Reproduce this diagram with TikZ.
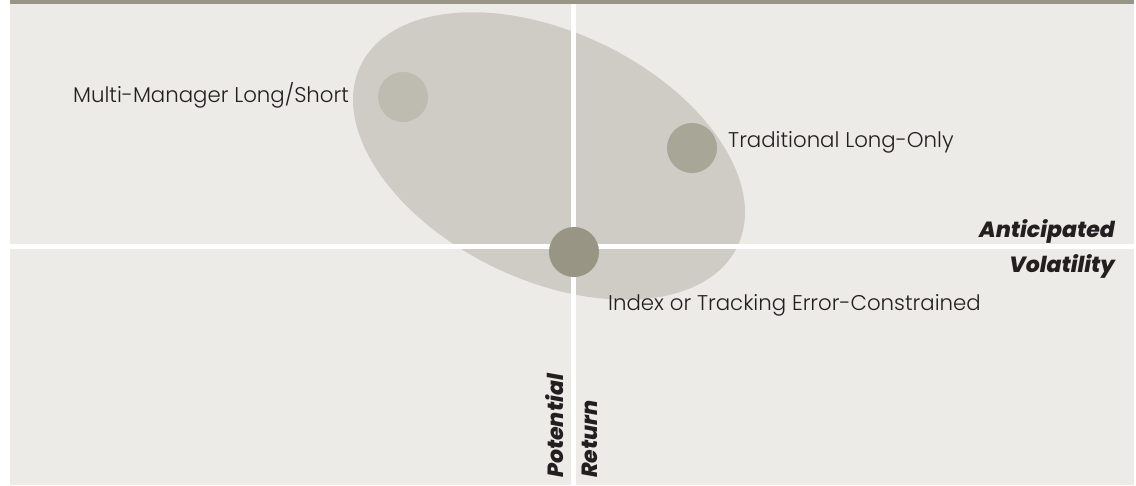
\documentclass[tikz,border=0pt]{standalone}
\usepackage{fontspec}
\usetikzlibrary{shapes.geometric}
\newfontfamily\labelfont{Poppins Light}
\newfontfamily\axisfont{Poppins ExtraBold Italic}
\definecolor{barcol}{HTML}{999585}
\definecolor{panelcol}{HTML}{ECEBE7}
\definecolor{cloudcol}{HTML}{CFCCC5}
\definecolor{dotA}{HTML}{BEBCB1}
\definecolor{dotB}{HTML}{A8A697}
\definecolor{dotC}{HTML}{999584}
\definecolor{inkcol}{HTML}{231F20}
\tikzset{
  dot/.style={circle, inner sep=0pt, minimum size=50pt, draw=none},
  strategy/.style={font=\labelfont\fontsize{21.3}{24}\selectfont, text=inkcol, inner sep=0pt, anchor=base west},
  axislabel/.style={font=\axisfont\fontsize{22}{24}\selectfont, text=inkcol, inner sep=0pt},
  axisline/.style={white, line width=5pt}
}
\begin{document}
\begin{tikzpicture}[x=1pt, y=-1pt]
  \useasboundingbox (0,0) rectangle (1136,485);
  % backdrop and header bar
  \fill[panelcol] (10,0) rectangle (1134,485);
  \fill[barcol] (10,0) rectangle (1134,4);
  % cloud of strategies
  \node[ellipse, fill=cloudcol, inner sep=0pt, minimum width=418pt, minimum height=248pt, rotate=-25.6] (cloud) at (549,156) {};
  \node[dot, fill=dotA] (mm) at (403,97) {};
  \node[dot, fill=dotB] (tl) at (692,148) {};
  % axes
  \coordinate (xl) at (10,246.5);
  \coordinate (xr) at (1134,246.5);
  \coordinate (yt) at (573.5,4);
  \coordinate (yb) at (573.5,485);
  \draw[axisline] (xl) -- (xr);
  \draw[axisline] (yt) -- (yb);
  \node[dot, fill=dotC] (ix) at (574,252) {};
  % strategy labels
  \node[strategy] (mmlab) at (73,102) {Multi-Manager Long/Short};
  \node[strategy] (tllab) at (728,147) {Traditional Long-Only};
  \node[strategy] (ixlab) at (608,310) {Index or Tracking Error-Constrained};
  % axis labels
  \node[axislabel, anchor=base east] (av1) at (1115,237) {Anticipated};
  \node[axislabel, anchor=base east] (av2) at (1115,272) {Volatility};
  \node[axislabel, anchor=base west, rotate=90] (pr1) at (563,478) {Potential};
  \node[axislabel, anchor=base west, rotate=90] (pr2) at (597,478) {Return};
\end{tikzpicture}
\end{document}
